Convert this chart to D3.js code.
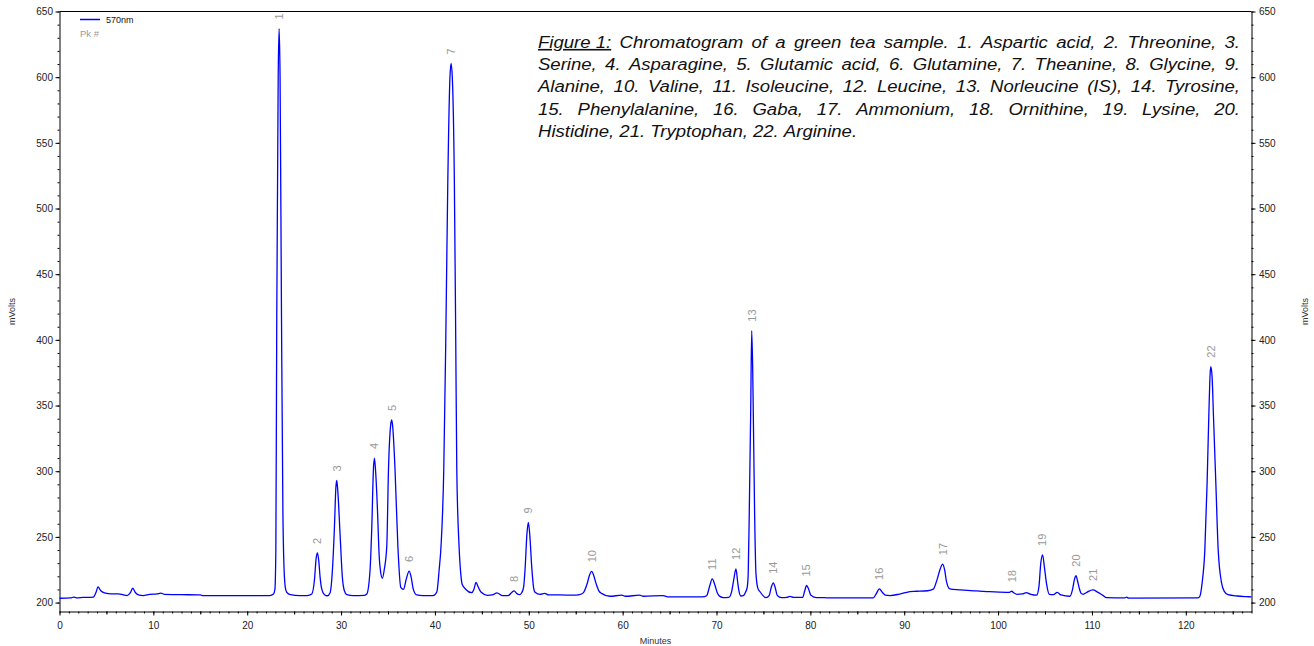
<!DOCTYPE html>
<html>
<head>
<meta charset="utf-8">
<script src="https://cdn.jsdelivr.net/npm/d3@7"></script>
<style>
  body { margin: 0; background: #fff; }
  svg { display: block; font-family: "Liberation Sans", Arial, sans-serif; }
</style>
</head>
<body>
<svg id="chart" width="1314" height="646"></svg>
<script>
// chromatogram trace, [minutes, mVolts]
var trace = [
  [0, 203.3], [1.2, 203.5], [1.5, 204.2], [1.8, 203.6], [2.5, 203.9], [3.6, 204.2],
  [3.9, 208], [4.1, 211.9], [4.4, 209], [4.9, 207.2], [5.5, 206.6], [6.3, 206.6],
  [6.8, 205.8], [7.2, 205.3], [7.55, 207.5], [7.8, 210.9], [8.1, 207.5], [8.5, 205.6],
  [8.9, 205.3], [9.6, 206.2], [10.4, 206.6], [10.8, 207.2], [11.2, 206.2], [13, 206],
  [15, 205.8], [15.3, 205.3], [20, 205.3], [22.4, 205.3], [22.8, 206.5], [22.95, 210],
  [23.05, 240], [23.15, 420], [23.3, 600], [23.4, 637], [23.5, 600], [23.65, 420],
  [23.8, 270], [23.9, 231], [24.05, 212], [24.2, 208], [24.6, 206], [25.6, 205.3],
  [26.4, 205.3], [26.88, 206.5], [27.16, 217], [27.35, 234], [27.48, 237.8], [27.62, 232],
  [27.77, 219], [27.95, 210], [28.23, 206], [28.55, 205.2], [28.83, 207.5], [29.08, 225],
  [29.29, 257], [29.45, 288], [29.54, 293], [29.65, 285], [29.9, 251], [30.14, 219],
  [30.35, 209], [30.61, 206], [31.3, 205.3], [32.5, 205.5], [32.74, 206.5], [33.09, 225],
  [33.27, 257], [33.45, 302], [33.55, 310], [33.65, 303], [33.87, 272], [34.05, 237],
  [34.23, 222.5], [34.4, 218.5], [34.6, 225], [34.87, 243], [35.05, 301], [35.3, 336],
  [35.4, 339], [35.5, 334], [35.75, 301], [36.05, 243], [36.36, 211.5], [36.64, 210],
  [36.95, 218], [37.25, 224], [37.45, 220], [37.7, 210], [38.06, 205.8], [38.7, 205.3],
  [39.8, 205.3], [40.2, 208], [40.45, 225], [40.65, 243], [40.94, 301], [41.15, 397],
  [41.37, 520], [41.6, 600], [41.72, 610.5], [41.85, 600], [42.07, 520], [42.22, 397],
  [42.33, 301], [42.57, 243], [42.75, 222], [42.9, 214], [43.3, 210], [43.9, 207.5],
  [44.15, 210], [44.38, 215.4], [44.6, 212], [44.9, 208], [45.6, 205.5], [46.2, 206],
  [46.6, 207.4], [47.2, 205.3], [47.8, 205.3], [48.15, 207.5], [48.43, 208.9], [48.7, 207],
  [48.99, 206], [49.25, 207.5], [49.45, 212], [49.6, 225], [49.8, 252], [49.95, 261],
  [50.1, 252], [50.31, 227.6], [50.5, 212], [50.67, 207.8], [51.2, 206.2], [51.7, 207],
  [52.1, 205.8], [53.3, 205.8], [54.75, 205.6], [55.4, 206], [55.8, 207.4], [56.2, 214],
  [56.5, 221.5], [56.7, 223.8], [56.9, 221], [57.2, 213.7], [57.5, 208.5], [57.8, 206.8],
  [58.65, 204.8], [59.9, 205.6], [60.3, 204.8], [61.8, 205.6], [62.2, 204.8], [64.3, 205.3],
  [64.8, 204.4], [68.5, 204.3], [68.95, 205.2], [69.25, 212], [69.55, 218], [69.8, 214],
  [70.08, 207.5], [70.4, 204.5], [70.72, 203.8], [71.3, 204], [71.6, 208], [71.85, 218],
  [72.07, 225.6], [72.25, 216], [72.36, 210], [72.6, 205], [72.9, 205.5], [73.1, 208],
  [73.28, 212], [73.38, 222.6], [73.49, 268], [73.64, 344], [73.75, 407], [73.85, 380],
  [73.92, 344], [74.06, 268], [74.2, 222.6], [74.4, 211], [74.63, 208.3], [75.27, 203.8],
  [75.62, 205.5], [75.85, 212], [76.05, 215], [76.25, 211.5], [76.47, 205.5], [76.94, 203.7],
  [77.5, 203.9], [77.82, 204.7], [78.2, 203.9], [79.18, 204], [79.4, 209], [79.6, 213],
  [79.8, 210.5], [80.06, 205.5], [80.67, 203.7], [81.5, 203.8], [82, 203.5], [86.7, 203.6],
  [87, 206.5], [87.35, 210.4], [87.7, 207.5], [88, 205.6], [88.5, 205.3], [89.5, 206.5],
  [90.25, 207.8], [90.6, 208.4], [91.3, 208.6], [92.5, 209], [93.1, 210.2], [93.5, 217.5],
  [93.85, 226], [94.1, 229.2], [94.3, 225], [94.5, 216.2], [94.86, 210.4], [95.9, 209.7],
  [97.7, 208.9], [98.8, 208.4], [100.9, 207.8], [101.2, 207.8], [101.45, 208.6], [101.7, 207.3],
  [102, 206.3], [102.6, 206.6], [103, 207.5], [103.4, 206.5], [104.1, 205.6], [104.35, 212],
  [104.55, 230], [104.74, 236.3], [104.95, 226], [105.17, 214], [105.45, 206.3], [105.9, 206],
  [106.3, 207.8], [106.7, 205.8], [107.65, 204.8], [107.93, 209.9], [108.15, 218], [108.3, 220.5],
  [108.45, 217], [108.64, 211.2], [108.85, 207], [109.05, 206.3], [109.5, 208], [110.1, 209.6],
  [110.6, 208], [111.2, 205.3], [111.55, 203.8], [113.5, 203.6], [113.7, 204.1], [113.9, 203.4],
  [121.3, 203.5], [121.5, 204.8], [121.74, 215], [122.03, 240.3], [122.27, 291], [122.45, 341.6],
  [122.6, 375], [122.67, 379.6], [122.8, 372], [122.95, 341.6], [123.2, 291], [123.45, 240.3],
  [123.81, 215], [124.1, 208.5], [124.5, 206], [125.5, 205], [126.5, 204.5], [127, 204.3]
];

// peak numbers, retention times and apex heights
var peakNums = [1, 2, 3, 4, 5, 6, 7, 8, 9, 10, 11, 12, 13, 14, 15, 16, 17, 18, 19, 20, 21, 22];
var peakTimes = [23.4, 27.48, 29.54, 33.55, 35.4, 37.25, 41.72, 48.43, 49.95, 56.7, 69.55,
  72.07, 73.75, 76.05, 79.6, 87.35, 94.1, 101.45, 104.74, 108.3, 110.1, 122.67];
var peakHeights = [637, 237.8, 293, 310, 339, 224, 610.5, 208.9, 261, 223.8, 218,
  225.6, 407, 215, 213, 210.4, 229.2, 208.6, 236.3, 220.5, 209.6, 379.6];

var xTicks = [0, 10, 20, 30, 40, 50, 60, 70, 80, 90, 100, 110, 120];
var yTicks = [200, 250, 300, 350, 400, 450, 500, 550, 600, 650];

var captionLines = [
  "Figure 1: Chromatogram of a green tea sample. 1. Aspartic acid, 2. Threonine, 3.",
  "Serine, 4. Asparagine, 5. Glutamic acid, 6. Glutamine, 7. Theanine, 8. Glycine, 9.",
  "Alanine, 10. Valine, 11. Isoleucine, 12. Leucine, 13. Norleucine (IS), 14. Tyrosine,",
  "15. Phenylalanine, 16. Gaba, 17. Ammonium, 18. Ornithine, 19. Lysine, 20.",
  "Histidine, 21. Tryptophan, 22. Arginine."
];

var svg = d3.select("#chart");
var plotL = 59.5, plotR = 1251.5, plotT = 11.5, plotB = 611.5;

var x = d3.scaleLinear().domain([0, 127]).range([plotL, plotR]);
var y = d3.scaleLinear().domain([193.2, 650]).range([plotB, plotT]);

// minor ticks
var xMinor = d3.range(0, 128, 1);
var xMid = d3.range(5, 128, 10);
var yMinor = d3.range(200, 651, 10);

function styleAxis(g) {
  g.selectAll("path, line").attr("stroke", "#000");
  g.selectAll("text").style("font-size", "10px").attr("fill", "#222");
}

// Bottom axis
svg.append("g").attr("transform", "translate(0," + plotB + ")")
  .call(d3.axisBottom(x).tickValues(xMinor).tickSize(2).tickSizeOuter(0).tickFormat(""))
  .call(styleAxis);
svg.append("g").attr("transform", "translate(0," + plotB + ")")
  .call(d3.axisBottom(x).tickValues(xMid).tickSize(3).tickSizeOuter(0).tickFormat(""))
  .call(styleAxis).select(".domain").remove();
svg.append("g").attr("transform", "translate(0," + plotB + ")")
  .call(d3.axisBottom(x).tickValues(xTicks).tickSize(4).tickPadding(6).tickSizeOuter(0))
  .call(styleAxis).select(".domain").remove();

// Left axis
svg.append("g").attr("transform", "translate(" + plotL + ",0)")
  .call(d3.axisLeft(y).tickValues(yMinor).tickSize(2).tickSizeOuter(0).tickFormat(""))
  .call(styleAxis);
svg.append("g").attr("transform", "translate(" + plotL + ",0)")
  .call(d3.axisLeft(y).tickValues(yTicks).tickSize(4).tickPadding(2.5).tickSizeOuter(0))
  .call(styleAxis).select(".domain").remove();

// Right axis
svg.append("g").attr("transform", "translate(" + plotR + ",0)")
  .call(d3.axisRight(y).tickValues(yMinor).tickSize(2).tickSizeOuter(0).tickFormat(""))
  .call(styleAxis);
svg.append("g").attr("transform", "translate(" + plotR + ",0)")
  .call(d3.axisRight(y).tickValues(yTicks).tickSize(4).tickPadding(3.5).tickSizeOuter(0))
  .call(styleAxis).select(".domain").remove();

// top frame
svg.append("line")
  .attr("x1", plotL).attr("x2", plotR).attr("y1", plotT).attr("y2", plotT)
  .attr("stroke", "#000");

// Axis labels
svg.append("text")
  .attr("transform", "translate(12," + (plotT + plotB) / 2 + ")rotate(-90)")
  .attr("text-anchor", "middle").attr("dy", "0.35em")
  .style("font-size", "9px").attr("fill", "#333")
  .text("mVolts");
svg.append("text")
  .attr("transform", "translate(1305," + (plotT + plotB) / 2 + ")rotate(-90)")
  .attr("text-anchor", "middle").attr("dy", "0.35em")
  .style("font-size", "9px").attr("fill", "#333")
  .text("mVolts");
svg.append("text")
  .attr("x", (plotL + plotR) / 2).attr("y", 644)
  .attr("text-anchor", "middle")
  .style("font-size", "9px").attr("fill", "#333")
  .text("Minutes");

// Trace
var line = d3.line()
  .x(function(d) { return x(d[0]); })
  .y(function(d) { return y(d[1]); })
  .curve(d3.curveMonotoneX);

svg.append("path")
  .datum(trace)
  .attr("d", line)
  .attr("fill", "none")
  .attr("stroke", "#0000ff")
  .attr("stroke-width", 1.3);

// Peak labels
svg.selectAll("text.pk")
  .data(peakNums)
  .enter().append("text")
  .attr("class", "pk")
  .attr("transform", function(d, i) {
    return "translate(" + x(peakTimes[i]) + "," + (y(peakHeights[i]) - 9) + ")rotate(-90)";
  })
  .attr("dy", "0.35em")
  .style("font-size", "11px")
  .attr("fill", "#999")
  .text(function(d) { return d; });

// Legend
svg.append("line")
  .attr("x1", 80).attr("x2", 100).attr("y1", 19.5).attr("y2", 19.5)
  .attr("stroke", "#0000ff").attr("stroke-width", 1.5);
svg.append("text").attr("x", 106).attr("y", 23)
  .style("font-size", "9px").attr("fill", "#111").text("570nm");
svg.append("text").attr("x", 80).attr("y", 36.5)
  .style("font-size", "9.5px").attr("fill", "#999").text("Pk #");

// Caption, justified word by word (text is a bit stretched sideways)
var sx = 1.16;
var capLeft = 538 / sx, capRight = 1240 / sx;
var cap = svg.append("g")
  .attr("transform", "scale(" + sx + ",1)")
  .style("font-size", "16px").style("font-style", "italic").attr("fill", "#111");

captionLines.forEach(function(txt, li) {
  var words = txt.split(" ");
  var baseY = 48 + li * 22.2;
  if (li === 0) {
    // keep "Figure 1:" together, underlined
    words = ["Figure 1:"].concat(words.slice(2));
  }
  var nodes = words.map(function(w, wi) {
    var t = cap.append("text").attr("y", baseY).text(w);
    if (li === 0 && wi === 0) t.style("text-decoration", "underline");
    return t;
  });
  var widths = nodes.map(function(n) { return n.node().getComputedTextLength(); });
  var total = d3.sum(widths);
  var space = 4.4;
  var gap = (li === captionLines.length - 1) ? space :
    (capRight - capLeft - total) / (words.length - 1);
  var cx = capLeft;
  nodes.forEach(function(n, i) {
    n.attr("x", cx);
    cx += widths[i] + gap;
  });
});
</script>
</body>
</html>
